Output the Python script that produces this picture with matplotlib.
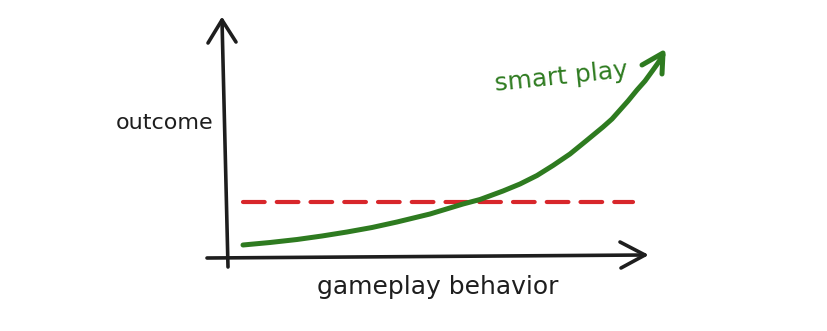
import numpy as np
import matplotlib.pyplot as plt

# hand-drawn sketch, everything in picture pixel coordinates
curve_x = [243, 270, 297, 322, 347, 372, 397, 430, 463, 480, 503, 520, 537, 553, 570, 586, 603, 612, 620, 628, 637, 645, 653, 658, 663]
curve_y = [245, 242.5, 239.5, 236, 232, 227.5, 222, 214, 204, 199.5, 191, 184, 175.5, 165.5, 154, 141, 127, 119, 110, 101, 90, 81, 70, 63, 55]
head_x = [642, 663, 662]
head_y = [65, 53, 74]

y_axis_x = [228, 222]
y_axis_y = [267, 20]
y_head_x = [208, 222, 236]
y_head_y = [43, 20, 42]

x_axis_x = [207, 645]
x_axis_y = [258, 255]
x_head_x = [620, 645, 621]
x_head_y = [242, 255, 268]

ref_x = [243, 633]
ref_y = [202, 202]

green = "#2e7b20"
red = "#d8262b"
ink = "#1e1e1e"

fig = plt.figure(figsize=(8.28, 3.31), dpi=100)
ax = fig.add_axes([0, 0, 1, 1])
ax.set_xlim(0, 828)
ax.set_ylim(331, 0)
ax.axis("off")

# axes arrows
ax.plot(y_axis_x, y_axis_y, color=ink, lw=2.6, solid_capstyle="round")
ax.plot(y_head_x, y_head_y, color=ink, lw=2.6, solid_capstyle="round", solid_joinstyle="round")
ax.plot(x_axis_x, x_axis_y, color=ink, lw=2.6, solid_capstyle="round")
ax.plot(x_head_x, x_head_y, color=ink, lw=2.6, solid_capstyle="round", solid_joinstyle="round")

# baseline dashed line
ax.plot(ref_x, ref_y, color=red, lw=3.0, dashes=(5.2, 2.9), dash_capstyle="round")

# smart play curve
ax.plot(curve_x, curve_y, color=green, lw=3.6, solid_capstyle="round", solid_joinstyle="round")
ax.plot(head_x, head_y, color=green, lw=3.6, solid_capstyle="round", solid_joinstyle="round")

ax.text(165, 123, "outcome", fontsize=16, color=ink, ha="center", va="center", family="DejaVu Sans")
ax.text(438, 287, "gameplay behavior", fontsize=18, color=ink, ha="center", va="center", family="DejaVu Sans")
ax.text(561, 77, "smart play", fontsize=18, color=green, ha="center", va="center",
        rotation=6, family="DejaVu Sans")

fig.savefig("out.png", dpi=100, facecolor="white")
